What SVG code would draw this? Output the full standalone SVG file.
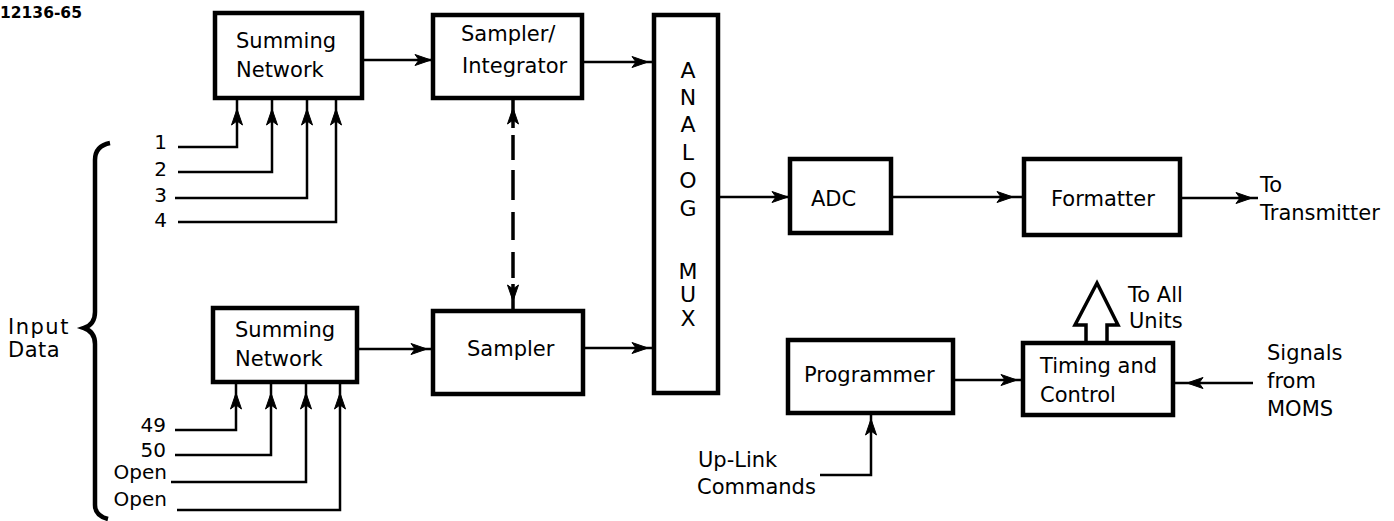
<svg xmlns="http://www.w3.org/2000/svg" width="1394" height="521" viewBox="0 0 1394 521">
  <style>
    .box{fill:#fff;stroke:#000;stroke-width:4.5}
    .lbl{font-family:"DejaVu Sans","Liberation Sans",sans-serif;font-size:21px;fill:#000}
    .num{font-family:"DejaVu Sans","Liberation Sans",sans-serif;font-size:20px;fill:#000}
    .mux{font-family:"DejaVu Sans","Liberation Sans",sans-serif;font-size:22px;fill:#000}
    .wire{fill:none;stroke:#000;stroke-width:2.5}
    .head{fill:#000;stroke:#000;stroke-width:1}
  </style>
  <defs>
    <!-- barbed arrowheads; the number is the gap between tip and line end -->
    <marker id="a2" markerUnits="userSpaceOnUse" viewBox="-40 -10 40 20" refX="0" refY="0" markerWidth="40" markerHeight="20" orient="auto">
      <path class="head" d="M-2,0 L-18,-5.5 L-14,0 L-18,5.5 Z"/>
    </marker>
    <marker id="a6" markerUnits="userSpaceOnUse" viewBox="-40 -10 40 20" refX="0" refY="0" markerWidth="40" markerHeight="20" orient="auto">
      <path class="head" d="M-6,0 L-22,-5.5 L-18,0 L-22,5.5 Z"/>
    </marker>
    <marker id="a11" markerUnits="userSpaceOnUse" viewBox="-40 -10 40 20" refX="0" refY="0" markerWidth="40" markerHeight="20" orient="auto">
      <path class="head" d="M-11,0 L-27,-5.5 L-23,0 L-27,5.5 Z"/>
    </marker>
    <marker id="a14" markerUnits="userSpaceOnUse" viewBox="-40 -10 40 20" refX="0" refY="0" markerWidth="40" markerHeight="20" orient="auto">
      <path class="head" d="M-14,0 L-30,-5.5 L-26,0 L-30,5.5 Z"/>
    </marker>
    <marker id="a11s" markerUnits="userSpaceOnUse" viewBox="-40 -10 40 20" refX="0" refY="0" markerWidth="40" markerHeight="20" orient="auto-start-reverse">
      <path class="head" d="M-10,0 L-26,-5.5 L-22,0 L-26,5.5 Z"/>
    </marker>
  </defs>

  <!-- figure number -->
  <text x="0" y="18" font-family="DejaVu Sans, sans-serif" font-weight="bold" font-size="15.5" fill="#000">12136-65</text>

  <!-- input data brace and labels -->
  <g id="input-data">
    <path d="M110,143 C100,145 95,150 95,160 L95,312 C95,322 90,326 84,328 C90,330 95,334 95,344 L95,505 C95,513 100,517 108,519" fill="none" stroke="#000" stroke-width="4.5"/>
    <text class="lbl" x="8" y="334" font-size="19" letter-spacing="1.5">Input</text>
    <text class="lbl" x="8" y="357" font-size="19" letter-spacing="0.5">Data</text>
    <text class="num" x="167" y="149" text-anchor="end">1</text>
    <text class="num" x="167" y="176" text-anchor="end">2</text>
    <text class="num" x="167" y="202" text-anchor="end">3</text>
    <text class="num" x="167" y="227" text-anchor="end">4</text>
    <text class="num" x="166" y="432" text-anchor="end">49</text>
    <text class="num" x="166" y="457" text-anchor="end">50</text>
    <text class="num" x="167" y="479" text-anchor="end">Open</text>
    <text class="num" x="167" y="506" text-anchor="end">Open</text>
  </g>

  <g id="summing-top">
    <rect class="box" x="215" y="13" width="147" height="85"/>
    <text class="lbl" x="236" y="48">Summing</text>
    <text class="lbl" x="236" y="77">Network</text>
  </g>

  <g id="summing-bottom">
    <rect class="box" x="213" y="308" width="144" height="74"/>
    <text class="lbl" x="235" y="337">Summing</text>
    <text class="lbl" x="235" y="366">Network</text>
  </g>

  <g id="sampler-integrator">
    <rect class="box" x="433" y="15" width="149" height="83"/>
    <text class="lbl" x="461" y="41">Sampler/</text>
    <text class="lbl" x="462" y="73">Integrator</text>
  </g>

  <g id="sampler">
    <rect class="box" x="433" y="311" width="150" height="83"/>
    <text class="lbl" x="467" y="356">Sampler</text>
  </g>

  <g id="analog-mux">
    <rect class="box" x="654" y="15" width="64" height="378"/>
    <g class="mux" text-anchor="middle">
      <text x="688" y="78">A</text>
      <text x="688" y="105">N</text>
      <text x="688" y="132">A</text>
      <text x="688" y="160">L</text>
      <text x="688" y="188">O</text>
      <text x="688" y="216">G</text>
      <text x="688" y="279">M</text>
      <text x="688" y="302">U</text>
      <text x="688" y="326">X</text>
    </g>
  </g>

  <g id="adc">
    <rect class="box" x="790" y="159" width="101" height="74"/>
    <text class="lbl" x="811" y="206">ADC</text>
  </g>

  <g id="formatter">
    <rect class="box" x="1024" y="159" width="156" height="76"/>
    <text class="lbl" x="1051" y="206">Formatter</text>
  </g>

  <g id="programmer">
    <rect class="box" x="788" y="340" width="165" height="73"/>
    <text class="lbl" x="804" y="382">Programmer</text>
  </g>

  <g id="timing-control">
    <rect class="box" x="1023" y="343" width="150" height="72"/>
    <text class="lbl" x="1040" y="373">Timing and</text>
    <text class="lbl" x="1040" y="402">Control</text>
  </g>

  <!-- free labels at the diagram edges -->
  <g id="labels">
    <text class="lbl" x="1260" y="192">To</text>
    <text class="lbl" x="1260" y="220">Transmitter</text>
    <text class="lbl" x="1128" y="302">To All</text>
    <text class="lbl" x="1129" y="328">Units</text>
    <text class="lbl" x="1267" y="360">Signals</text>
    <text class="lbl" x="1267" y="388">from</text>
    <text class="lbl" x="1267" y="416">MOMS</text>
    <text class="lbl" x="698" y="467">Up-Link</text>
    <text class="lbl" x="697" y="494">Commands</text>
  </g>

  <g id="connectors">
    <!-- inputs 1..4 into the upper summing network -->
    <path class="wire" d="M178,147 H237 V98" marker-end="url(#a11)"/>
    <path class="wire" d="M178,172 H272 V98" marker-end="url(#a11)"/>
    <path class="wire" d="M175,198 H307 V98" marker-end="url(#a11)"/>
    <path class="wire" d="M178,222 H336 V98" marker-end="url(#a11)"/>
    <!-- inputs 49, 50 and the open ones into the lower summing network -->
    <path class="wire" d="M175,430 H236 V382" marker-end="url(#a11)"/>
    <path class="wire" d="M175,455 H271 V382" marker-end="url(#a11)"/>
    <path class="wire" d="M171,482 H306 V382" marker-end="url(#a11)"/>
    <path class="wire" d="M177,510 H340 V382" marker-end="url(#a11)"/>

    <path class="wire" d="M362,60 H433" marker-end="url(#a2)"/>
    <path class="wire" d="M357,349 H433" marker-end="url(#a6)"/>
    <path class="wire" d="M582,62 H654" marker-end="url(#a6)"/>
    <path class="wire" d="M583,348 H654" marker-end="url(#a6)"/>

    <!-- sampler coupling (dashed, both ways) -->
    <path d="M513,98 V311" fill="none" stroke="#000" stroke-width="3.5" stroke-dasharray="30 7 25 10 30 12 28 12 26 6 26 100" marker-start="url(#a11s)" marker-end="url(#a11s)"/>

    <path class="wire" d="M718,197 H790" marker-end="url(#a2)"/>
    <path class="wire" d="M891,197 H1024" marker-end="url(#a11)"/>
    <path class="wire" d="M1180,198 H1258" marker-end="url(#a6)"/>
    <path class="wire" d="M953,380 H1023" marker-end="url(#a6)"/>
    <path class="wire" d="M1253,383 H1173" marker-end="url(#a14)"/>
    <path class="wire" d="M820,475 H871 V413" marker-end="url(#a6)"/>

    <!-- broad output arrow to all units -->
    <path d="M1086,343 V325 H1075 L1097,283 L1118,325 H1107 V343" fill="none" stroke="#000" stroke-width="3.5" stroke-linejoin="miter"/>
  </g>
</svg>
